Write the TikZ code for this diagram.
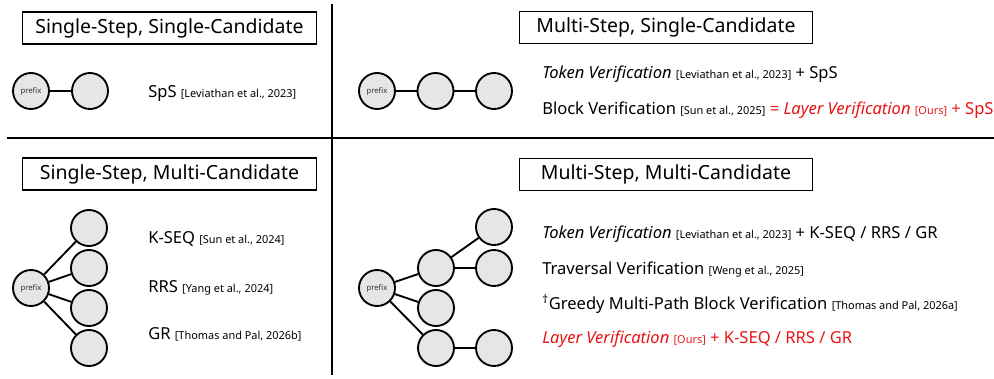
\documentclass[tikz,border=0pt]{standalone}
\usepackage{fontspec}
\setmainfont{Noto Sans}
\definecolor{oursred}{RGB}{232,20,20}
\definecolor{tokfill}{RGB}{230,230,230}
\newcommand{\citetag}[1]{{\fontsize{8.2pt}{9pt}\selectfont[#1]}}

\begin{document}
\begin{tikzpicture}[x=0.75pt,y=-0.75pt]
	\tikzstyle{every node}=[font=\fontsize{12.4pt}{14pt}\selectfont]
	\tikzstyle{tok}=[circle, draw, line width=1.4pt, fill=tokfill, minimum size=27pt, inner sep=0pt]
	\tikzstyle{pfx}=[font=\fontsize{5.8pt}{7pt}\selectfont, text=black!80]
	\tikzstyle{edge}=[line width=1.4pt]
	\tikzstyle{title}=[draw, line width=0.8pt, minimum width=220pt, minimum height=24pt, inner sep=0pt, font=\fontsize{14.6pt}{16pt}\selectfont]
	\tikzstyle{line}=[anchor=base west, inner sep=0pt]
	
	\useasboundingbox (0,0) rectangle (994,378);
	
	% dividers
	\draw [line width=1.5pt] (331.5,4) -- (331.5,375);
	\draw [line width=1.5pt] (7,138) -- (994,138);
	
	% single-step, single-candidate
	\node [title] (t1) at (169.5,28) {Single-Step, Single-Candidate};
	\node [tok, pfx] (a0) at (31,91) {prefix};
	\node [tok] (a1) at (90,91) {};
	\draw [edge] (a0) -- (a1);
	\node [line] (sps) at (148,97) {SpS \citetag{Leviathan et al., 2023}};
	
	% multi-step, single-candidate
	\node [title] (t2) at (666,27.5) {Multi-Step, Single-Candidate};
	\node [tok, pfx] (b0) at (377,91) {prefix};
	\node [tok] (b1) at (435.5,91) {};
	\node [tok] (b2) at (494,91) {};
	\draw [edge] (b0) -- (b1);
	\draw [edge] (b1) -- (b2);
	\node [line] (tvs) at (542,79) {\textit{Token Verification} \citetag{Leviathan et al., 2023} + SpS};
	\node [line] (bvs) at (542,114) {Block Verification \citetag{Sun et al., 2025} {\color{oursred}= \textit{Layer Verification} \citetag{Ours} + SpS}};
	
	% single-step, multi-candidate
	\node [title] (t3) at (169.5,174) {Single-Step, Multi-Candidate};
	\node [tok, pfx] (c0) at (31,288) {prefix};
	\node [tok] (c1) at (89,228) {};
	\node [tok] (c2) at (89,268) {};
	\node [tok] (c3) at (89,308) {};
	\node [tok] (c4) at (89,348) {};
	\draw [edge] (c0) -- (c1);
	\draw [edge] (c0) -- (c2);
	\draw [edge] (c0) -- (c3);
	\draw [edge] (c0) -- (c4);
	\node [line] (kseq) at (148,243) {K-SEQ \citetag{Sun et al., 2024}};
	\node [line] (rrs) at (148,292) {RRS \citetag{Yang et al., 2024}};
	\node [line] (gr) at (148,339) {GR \citetag{Thomas and Pal, 2026b}};
	
	% multi-step, multi-candidate
	\node [title] (t4) at (666,174.5) {Multi-Step, Multi-Candidate};
	\node [tok, pfx] (d0) at (377,288) {prefix};
	\node [tok] (d1) at (436,268) {};
	\node [tok] (d2) at (436,308) {};
	\node [tok] (d3) at (436,348) {};
	\node [tok] (d4) at (494,227) {};
	\node [tok] (d5) at (494,268) {};
	\node [tok] (d6) at (494,348) {};
	\draw [edge] (d0) -- (d1);
	\draw [edge] (d0) -- (d2);
	\draw [edge] (d0) -- (d3);
	\draw [edge] (d1) -- (d4);
	\draw [edge] (d1) -- (d5);
	\draw [edge] (d3) -- (d6);
	\node [line] (tvm) at (542,238) {\textit{Token Verification} \citetag{Leviathan et al., 2023} + K-SEQ / RRS / GR};
	\node [line] (trv) at (542,274) {Traversal Verification \citetag{Weng et al., 2025}};
	\node [line] (gmp) at (542,309) {\textsuperscript{\textdagger}Greedy Multi-Path Block Verification \citetag{Thomas and Pal, 2026a}};
	\node [line, text=oursred] (lvm) at (542,343) {\textit{Layer Verification} \citetag{Ours} + K-SEQ / RRS / GR};
	
\end{tikzpicture}
\end{document}
